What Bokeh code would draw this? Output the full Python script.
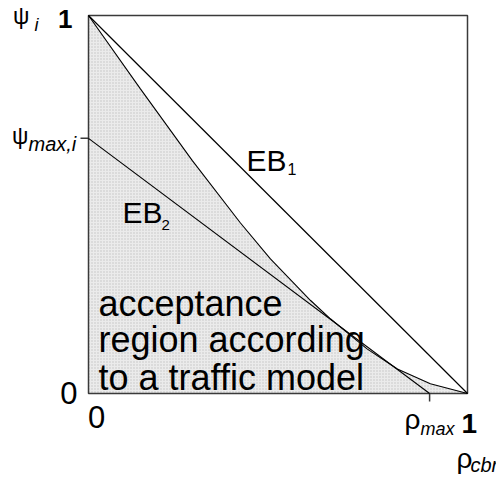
from bokeh.plotting import figure
from bokeh.models import Range1d, Label
from bokeh.embed import file_html
from bokeh.resources import INLINE

# ---- data ----
curve_x = [0.0, 0.137, 0.274, 0.401, 0.480, 0.586, 0.639, 0.735, 0.815, 0.902, 1.0]
curve_y = [1.0, 0.806, 0.616, 0.451, 0.356, 0.246, 0.197, 0.118, 0.065, 0.026, 0.0]
eb1_x = [0.0, 1.0]
eb1_y = [1.0, 0.0]
psi_max = 0.675
rho_max = 0.90
eb2_x = [0.0, rho_max]
eb2_y = [psi_max, 0.0]
zeros = [0.0] * len(curve_x)

FONT = "Liberation Sans"

# layout: the unit box occupies pixels x 88..467, y 15..393 of a 496x480 canvas
W, H = 496, 480
BOX_L, BOX_W, BOX_T, BOX_H = 88, 379, 15, 378
x_lo = -BOX_L / BOX_W
x_hi = (W - BOX_L) / BOX_W
y_hi = (BOX_T + BOX_H) / BOX_H
y_lo = (BOX_T + BOX_H - H) / BOX_H
TEXT_SHIFT = -9  # label baseline correction in pixels

p = figure(width=W, height=H, output_backend="svg", toolbar_location=None,
           x_range=Range1d(x_lo, x_hi), y_range=Range1d(y_lo, y_hi),
           x_axis_location=None, y_axis_location=None,
           min_border=0)
p.background_fill_color = "white"
p.border_fill_color = "white"
p.grid.visible = False
p.outline_line_color = None

def dx(px):
    return (px - BOX_L) / BOX_W

def dy(py):
    return (BOX_T + BOX_H - py) / BOX_H

# acceptance region
p.varea(x=curve_x, y1=zeros, y2=curve_y, fill_color="#ebebeb",
        hatch_pattern="dot", hatch_color="#c2c2c2", hatch_scale=3, hatch_weight=1)

# box
p.quad(left=[0], right=[1], bottom=[0], top=[1], fill_color=None,
       line_color="#3a3a3a", line_width=1.5)

# tick marks at psi_max and rho_max
tick = 8
p.segment(x0=[dx(BOX_L - tick)], y0=[psi_max], x1=[0], y1=[psi_max],
          line_color="#3a3a3a", line_width=1.5)
p.segment(x0=[rho_max], y0=[0], x1=[rho_max], y1=[dy(BOX_T + BOX_H + tick)],
          line_color="#3a3a3a", line_width=1.5)

p.line(eb1_x, eb1_y, line_color="black", line_width=1.2)
p.line(curve_x, curve_y, line_color="black", line_width=1.1)
p.line(eb2_x, eb2_y, line_color="black", line_width=1.1)

labels = [
    # text, x, y (pixels), align, baseline, size, style
    ("ψ", 29, 24.5, "right", "alphabetic", 23, "normal"),
    ("i", 34, 33, "left", "alphabetic", 18, "italic"),
    ("1", 72, 27, "right", "alphabetic", 26, "bold"),
    ("ψ", 28, 144, "right", "alphabetic", 23, "normal"),
    ("max,i", 28, 152, "left", "alphabetic", 20, "italic"),
    ("0", 77, 401.5, "right", "alphabetic", 31, "normal"),
    ("0", 96, 425.5, "center", "alphabetic", 31, "normal"),
    ("ρ", 420, 428, "right", "alphabetic", 28, "normal"),
    ("max", 420, 437, "left", "alphabetic", 18, "italic"),
    ("1", 461, 432, "left", "alphabetic", 28, "bold"),
    ("ρ", 456, 467, "left", "alphabetic", 28, "normal"),
    ("cbr", 470, 473, "left", "alphabetic", 20, "italic"),
    ("EB", 246, 169, "left", "alphabetic", 30, "normal"),
    ("1", 287, 177, "left", "alphabetic", 16, "normal"),
    ("EB", 122, 221, "left", "alphabetic", 30, "normal"),
    ("2", 161, 233, "left", "alphabetic", 15, "normal"),
    ("acceptance", 98, 312, "left", "alphabetic", 36, "normal"),
    ("region according", 98, 348, "left", "alphabetic", 36, "normal"),
    ("to a traffic model", 98, 386, "left", "alphabetic", 36, "normal"),
]
for t, x, y, al, bl, sz, st in labels:
    p.add_layout(Label(x=dx(x), y=dy(y + TEXT_SHIFT), text=t, text_align=al,
                       text_baseline=bl, text_font=FONT, text_font_size=f"{sz}px",
                       text_font_style=st, text_color="black"))

open("out.html", "w").write(file_html(p, INLINE))
